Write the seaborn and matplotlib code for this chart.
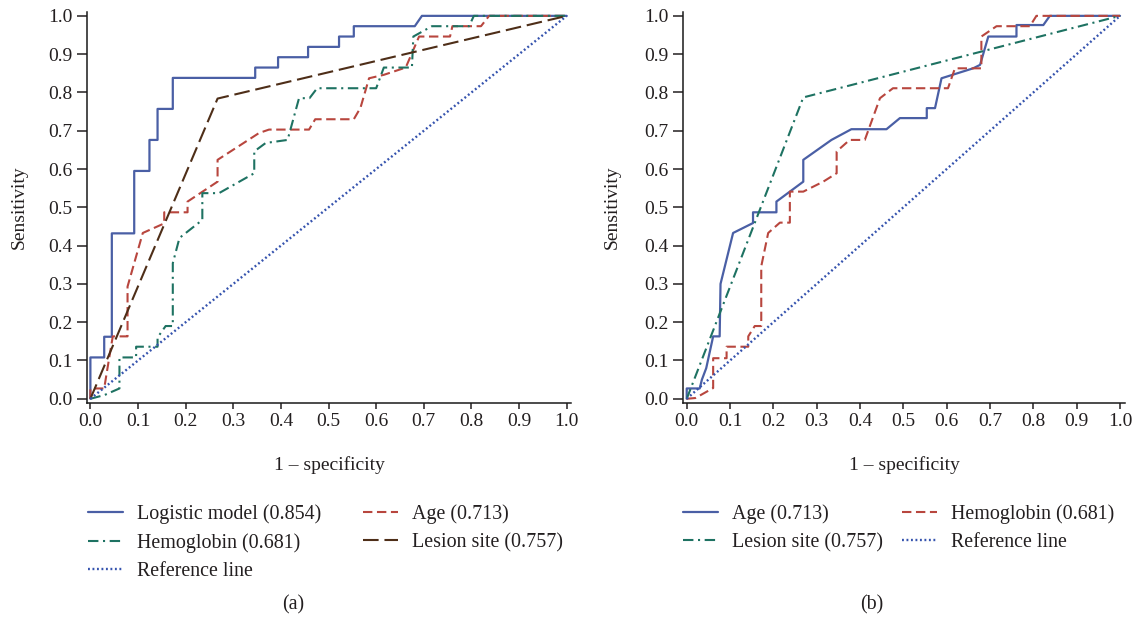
import numpy as np
import pandas as pd
import matplotlib
matplotlib.use('Agg')
import matplotlib.pyplot as plt
import seaborn as sns

# ---- panel (a) ROC curves ----
logit_fpr = [0, 0, 0.029, 0.029, 0.045, 0.045, 0.092, 0.092, 0.124, 0.124, 0.141, 0.141,
             0.173, 0.173, 0.346, 0.346, 0.394, 0.394, 0.457, 0.457, 0.522, 0.522,
             0.553, 0.553, 0.681, 0.696, 1.0]
logit_tpr = [0, 0.108, 0.108, 0.162, 0.162, 0.432, 0.432, 0.595, 0.595, 0.676, 0.676, 0.757,
             0.757, 0.838, 0.838, 0.865, 0.865, 0.892, 0.892, 0.919, 0.919, 0.946,
             0.946, 0.973, 0.973, 1.0, 1.0]

age_a_fpr = [0, 0, 0.029, 0.033, 0.047, 0.078, 0.078, 0.11, 0.155, 0.155, 0.204, 0.204,
             0.267, 0.267, 0.354, 0.375, 0.459, 0.472, 0.553, 0.567, 0.585, 0.616,
             0.662, 0.69, 0.755, 0.76, 0.82, 0.837, 1.0]
age_a_tpr = [0, 0.027, 0.027, 0.058, 0.163, 0.163, 0.293, 0.433, 0.458, 0.487, 0.487, 0.515,
             0.567, 0.624, 0.694, 0.703, 0.703, 0.73, 0.73, 0.76, 0.837, 0.846,
             0.865, 0.946, 0.946, 0.973, 0.973, 1.0, 1.0]

hemo_a_fpr = [0, 0.03, 0.061, 0.061, 0.096, 0.096, 0.141, 0.141, 0.158, 0.173, 0.173, 0.187,
              0.235, 0.235, 0.27, 0.344, 0.344, 0.368, 0.414, 0.438, 0.46, 0.476,
              0.6, 0.616, 0.675, 0.678, 0.717, 0.795, 0.805, 1.0]
hemo_a_tpr = [0, 0.01, 0.027, 0.108, 0.108, 0.136, 0.136, 0.16, 0.19, 0.19, 0.354, 0.42,
              0.467, 0.537, 0.537, 0.589, 0.646, 0.668, 0.676, 0.785, 0.785, 0.811,
              0.811, 0.865, 0.865, 0.946, 0.973, 0.973, 1.0, 1.0]

lesion_a_fpr = [0, 0.267, 1.0]
lesion_a_tpr = [0, 0.784, 1.0]

# ---- panel (b) ----
age_b_fpr = [0, 0, 0.03, 0.035, 0.045, 0.061, 0.076, 0.078, 0.107, 0.153, 0.153, 0.207,
             0.207, 0.269, 0.269, 0.334, 0.38, 0.461, 0.492, 0.554, 0.554, 0.573,
             0.588, 0.661, 0.677, 0.696, 0.761, 0.761, 0.823, 0.838, 1.0]
age_b_tpr = [0, 0.027, 0.027, 0.05, 0.08, 0.163, 0.163, 0.3, 0.433, 0.459, 0.487, 0.487,
             0.515, 0.567, 0.624, 0.676, 0.704, 0.704, 0.733, 0.733, 0.759, 0.759,
             0.837, 0.863, 0.872, 0.946, 0.946, 0.976, 0.976, 1.0, 1.0]

hemo_b_fpr = [0, 0.02, 0.061, 0.061, 0.092, 0.092, 0.142, 0.142, 0.157, 0.172, 0.172, 0.188,
              0.215, 0.238, 0.238, 0.269, 0.315, 0.346, 0.346, 0.376, 0.411, 0.446,
              0.476, 0.603, 0.619, 0.68, 0.68, 0.715, 0.792, 0.807, 1.0]
hemo_b_tpr = [0, 0.002, 0.028, 0.106, 0.106, 0.136, 0.136, 0.163, 0.19, 0.19, 0.346, 0.433,
              0.46, 0.46, 0.541, 0.541, 0.567, 0.589, 0.646, 0.676, 0.676, 0.785,
              0.811, 0.811, 0.863, 0.863, 0.946, 0.973, 0.973, 1.0, 1.0]

lesion_b_fpr = [0, 0.269, 1.0]
lesion_b_tpr = [0, 0.787, 1.0]

ref_fpr = [0, 1.0]
ref_tpr = [0, 1.0]

ticks = [0.0, 0.1, 0.2, 0.3, 0.4, 0.5, 0.6, 0.7, 0.8, 0.9, 1.0]

blue = '#4a5fa5'
red = '#b8463e'
teal = '#1e7262'
brown = '#4e2e18'
refblue = '#3553ae'
txt = '#231f20'

sns.set_style('ticks')
plt.rcParams['font.family'] = ['Liberation Serif', 'DejaVu Serif']
plt.rcParams['text.color'] = txt
plt.rcParams['axes.labelcolor'] = txt
plt.rcParams['xtick.color'] = txt
plt.rcParams['ytick.color'] = txt

fig = plt.figure(figsize=(11.35, 6.2), dpi=100)
ax_a = fig.add_axes([0.0767, 0.35, 0.4264, 0.6306])
ax_b = fig.add_axes([0.6018, 0.35, 0.3894, 0.6306])

# (fpr, tpr, label, color, linestyle, linewidth)
curves_a = [
    (logit_fpr, logit_tpr, 'Logistic model (0.854)', blue, '-', 1.6),
    (age_a_fpr, age_a_tpr, 'Age (0.713)', red, (0, (4.5, 2.2)), 1.5),
    (hemo_a_fpr, hemo_a_tpr, 'Hemoglobin (0.681)', teal, (0, (5, 2.2, 1, 2.2)), 1.5),
    (lesion_a_fpr, lesion_a_tpr, 'Lesion site (0.757)', brown, (0, (7.5, 2.8)), 1.5),
    (ref_fpr, ref_tpr, 'Reference line', refblue, (0, (0.8, 1.1)), 1.7),
]
curves_b = [
    (age_b_fpr, age_b_tpr, 'Age (0.713)', blue, '-', 1.6),
    (hemo_b_fpr, hemo_b_tpr, 'Hemoglobin (0.681)', red, (0, (4.5, 2.2)), 1.5),
    (lesion_b_fpr, lesion_b_tpr, 'Lesion site (0.757)', teal, (0, (5, 2.2, 1, 2.2)), 1.5),
    (ref_fpr, ref_tpr, 'Reference line', refblue, (0, (0.8, 1.1)), 1.7),
]

for ax, curves in [(ax_a, curves_a), (ax_b, curves_b)]:
    for fx, ty, lab, col, ls, lw in curves:
        d = pd.DataFrame({'fpr': fx, 'tpr': ty})
        sns.lineplot(data=d, x='fpr', y='tpr', ax=ax, sort=False, estimator=None,
                     color=col, linestyle=ls, linewidth=lw, label=lab)
    if ax.get_legend() is not None:
        ax.get_legend().remove()
    ax.set_yticks(ticks)
    ax.set_xticks(ticks)
    ax.set_xticklabels(['%.1f' % t for t in ticks])
    ax.set_yticklabels(['%.1f' % t for t in ticks])
    ax.set_ylim(-0.011, 1.01)
    ax.set_xlabel('1 – specificity', fontsize=14)
    ax.set_ylabel('Sensitivity', fontsize=14)
    ax.xaxis.set_label_coords(0.5, -0.135)
    for s in ['top', 'right']:
        ax.spines[s].set_visible(False)
    for s in ['left', 'bottom']:
        ax.spines[s].set_linewidth(1.1)
        ax.spines[s].set_color('#1a1a1a')
    ax.tick_params(axis='y', direction='out', length=7.5, width=1.1, labelsize=14, pad=3)
    ax.tick_params(axis='x', direction='out', length=4.5, width=1.1, labelsize=14, pad=3)

ax_a.set_xlim(-0.007, 1.009)
ax_b.set_xlim(-0.0085, 1.0115)
ax_a.yaxis.set_label_coords(-0.122, 0.5)
ax_b.yaxis.set_label_coords(-0.14, 0.5)

# legends, ordered column by column
ha, la = ax_a.get_legend_handles_labels()
order_a = [0, 2, 4, 1, 3]
fig.legend([ha[i] for i in order_a], [la[i] for i in order_a], loc='upper left',
           bbox_to_anchor=(0.0772, 0.187), ncol=2, frameon=False, fontsize=14.4,
           borderpad=0, borderaxespad=0, handlelength=1.75, handletextpad=0.7,
           columnspacing=2.1, labelspacing=0.45)
hb, lb = ax_b.get_legend_handles_labels()
order_b = [0, 2, 1, 3]
fig.legend([hb[i] for i in order_b], [lb[i] for i in order_b], loc='upper left',
           bbox_to_anchor=(0.6018, 0.187), ncol=2, frameon=False, fontsize=14.4,
           borderpad=0, borderaxespad=0, handlelength=1.75, handletextpad=0.7,
           columnspacing=0.95, labelspacing=0.45)

fig.text(293 / 1135, 1 - 605 / 620, '(a)', ha='center', va='center', fontsize=14.4)
fig.text(872 / 1135, 1 - 605 / 620, '(b)', ha='center', va='center', fontsize=14.4)

fig.savefig('out.png', dpi=100)
